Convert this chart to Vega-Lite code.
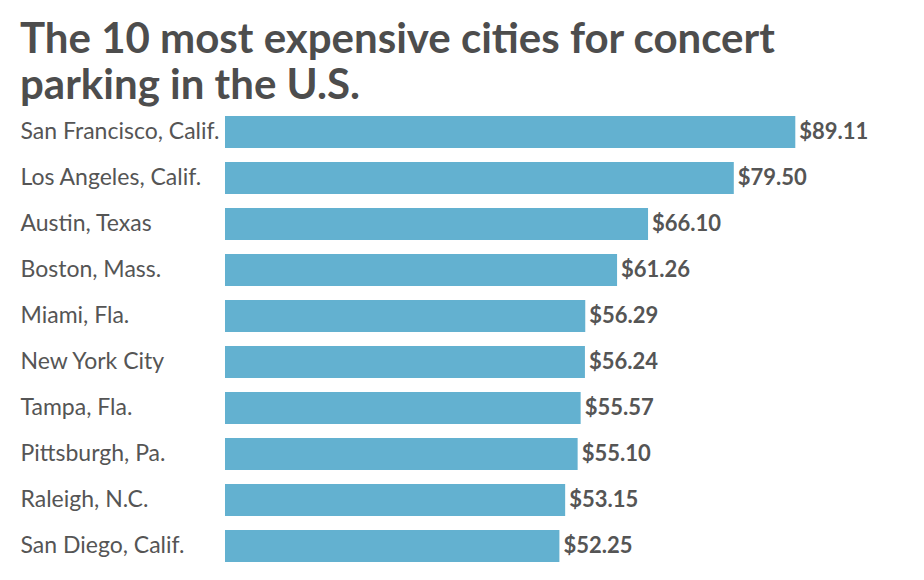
{
  "$schema": "https://vega.github.io/schema/vega-lite/v6.json",
  "autosize": "none",
  "width": 640,
  "height": 460,
  "padding": {"left": 225, "top": 109, "right": 59, "bottom": 11},
  "background": "white",
  "title": {
    "text": ["The 10 most expensive cities for concert", "parking in the U.S."],
    "anchor": "start",
    "frame": "group",
    "dx": -205,
    "offset": 1,
    "font": "Lato",
    "fontSize": 42,
    "fontWeight": "bold",
    "lineHeight": 46,
    "color": "#4d4d4d"
  },
  "config": {"view": {"stroke": null}},
  "data": {
    "values": [
      {"city": "San Francisco, Calif.", "cost": 89.11},
      {"city": "Los Angeles, Calif.", "cost": 79.50},
      {"city": "Austin, Texas", "cost": 66.10},
      {"city": "Boston, Mass.", "cost": 61.26},
      {"city": "Miami, Fla.", "cost": 56.29},
      {"city": "New York City", "cost": 56.24},
      {"city": "Tampa, Fla.", "cost": 55.57},
      {"city": "Pittsburgh, Pa.", "cost": 55.10},
      {"city": "Raleigh, N.C.", "cost": 53.15},
      {"city": "San Diego, Calif.", "cost": 52.25}
    ]
  },
  "encoding": {
    "y": {
      "field": "city",
      "type": "nominal",
      "sort": null,
      "scale": {"paddingInner": 0.3, "paddingOuter": 0.15},
      "axis": {
        "title": null,
        "domain": false,
        "ticks": false,
        "labelAlign": "left",
        "labelPadding": 205,
        "labelFont": "Lato",
        "labelFontSize": 23,
        "labelColor": "#555555",
        "labelLimit": 0
      }
    },
    "x": {
      "field": "cost",
      "type": "quantitative",
      "scale": {"domain": [0, 100], "nice": false},
      "axis": null
    }
  },
  "layer": [
    {"mark": {"type": "bar", "color": "#63b1d0"}},
    {
      "mark": {
        "type": "text",
        "align": "left",
        "baseline": "middle",
        "dx": 4,
        "font": "Lato",
        "fontSize": 22,
        "fontWeight": "bold",
        "color": "#555555"
      },
      "encoding": {
        "text": {"field": "cost", "type": "quantitative", "format": "$.2f"}
      }
    }
  ]
}
